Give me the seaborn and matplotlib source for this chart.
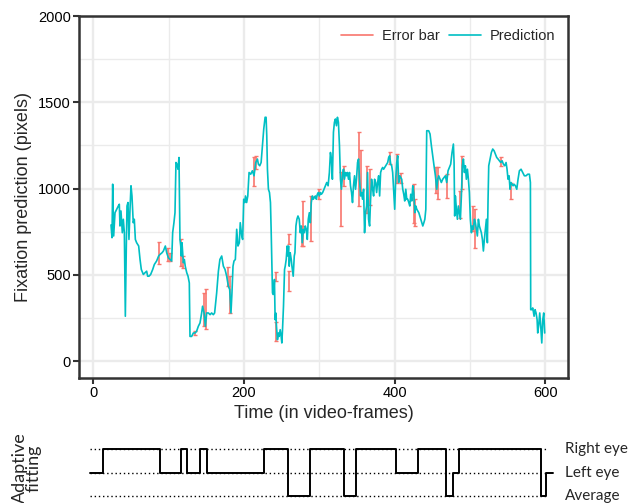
import matplotlib
matplotlib.use("Agg")
import matplotlib.pyplot as plt
from matplotlib.lines import Line2D
import numpy as np
import seaborn as sns

# ---- data ----
frames = [23.5, 24.8, 25.7, 27, 28.8, 31, 33.2, 34.5, 35.4, 36.7, 38.5, 39.8, 41.2, 42.5, 43.8,
          44.7, 46, 47.3, 48.7, 50, 51.3, 53, 54.4, 55.8, 57.5, 60.2, 62, 63.7, 66.4, 68.6,
          70.8, 72.1, 73.9, 76.1, 78.8, 81, 84, 86.7, 88.5, 91.2, 93, 95.6, 97.4, 99.6, 101.8,
          104, 105.3, 107, 108.4, 109.7, 111, 112.4, 113.7, 115, 116, 116.8, 117.7, 119.5, 120.8,
          122, 124, 125.7, 127.4, 128.3, 130.5, 132.8, 135, 137, 139.4, 141.6, 143.8, 145, 147,
          148.7, 150.5, 152.7, 155, 157, 159.3, 161, 163.7, 166, 168, 170.4, 172.6, 174.8, 177,
          179.2, 181, 182.7, 184, 185.4, 186.7, 188.5, 190.3, 192, 193.8, 195, 197, 198.2, 199.6,
          201, 202, 203.5, 205,
          206.7, 208.9, 211.1, 213.3, 215.6, 217.8, 219.1, 220.9, 222.7, 224.4, 226.2, 228, 229.3,
          230.2, 231.1, 232.4, 233.8, 235.1, 236, 236.9, 237.8, 238.7, 239.6, 240.4, 241.3, 242.2,
          243.1, 244.4, 245.8, 246.7, 248, 249.3, 250.2, 251.1, 252.4, 253.8, 254.7, 256, 257.3,
          258.2, 259.1, 260, 261.3, 262.7, 263.6, 265.3, 266.7, 267.6, 268.9, 270.2, 271.6, 273.3,
          274.7, 276, 277.3, 278.7, 280, 281.3, 282.7, 284, 285.3, 286.7, 288, 289.3, 290.7, 292,
          293.3, 294.7, 296, 297.3, 298.7, 300, 301.3, 302.7, 304.4, 306.2, 308, 309.8, 311.6,
          313.3, 314.7, 316, 317.3, 318.7, 320, 321.3, 322.7, 324, 325.3, 326.7, 328, 329.3, 330.7,
          332, 333.3, 334.7, 336, 337.3, 338.7, 340, 341.3, 342.7, 344, 345.3, 346.7, 348, 349.3,
          350.7, 352, 353.3, 354.7, 356, 357.3, 358.7, 360, 361.3, 362.7, 364, 365.3, 366.7, 368,
          369.3, 370.7, 372, 373.3, 374.7, 376, 377.3, 378.7, 380, 381.3, 382.7, 384, 385.3, 386.7,
          388, 389.3, 390.7, 392, 393.3, 394.7, 396, 397.3, 398.7, 400, 401.3, 402.7, 404, 405.3,
          406.7, 408, 409.3, 410.7, 412, 413.3, 414.7, 416, 417.3, 418.7, 420, 421.3, 422.7, 424,
          425.3, 426.7, 428, 429.3, 430.7, 432, 433.3, 434.7, 436, 437.3, 438.7, 440, 441.3,
          442.5, 445.1, 446.9, 448.7, 450.4, 452.2, 454, 455.8, 457.1, 458.4, 460.2, 461.9, 463.7,
          465.5, 467.3, 469, 470.8, 472.6, 474.3, 476.1, 477.9, 478.8, 479.6, 480.5, 481.9, 483.2,
          484.5, 485.8, 487.2, 488.5, 489.8, 491.2, 492.5, 493.8, 495.1, 496.5, 497.8, 499.1,
          500.4, 501.8, 503.1, 504.4, 505.8, 507.1, 508.4, 509.7, 511.1, 512.4, 513.7, 515, 516.4,
          517.7, 519, 520.4, 521.7, 523, 523.9, 524.8, 526.6, 528.3, 530.1, 531.9, 533.6, 535.4,
          537.2, 538.9, 540.7, 542.5, 544.3, 546, 547.8, 549.1, 550.4, 551.8, 553.1, 554.4, 555.8,
          557.1, 558.4, 560.2, 562, 563.7, 565.5, 567.7, 569.9, 572.1, 574.3, 576.6, 578.8, 580.1,
          580.5, 581.9, 583.2, 585, 586.3, 587.6, 589, 589.8, 591.2, 592.5, 593.8, 595.2, 596.5,
          597.8, 599.1]

prediction = [789, 715, 1025, 725, 860, 880, 899, 909, 783, 870, 744, 822, 744, 260, 667,
              899, 919, 705, 880, 1016, 957, 802, 822, 705, 686, 667, 589, 531, 502, 512,
              521, 492, 492, 502, 531, 560, 580, 609, 618, 628, 638, 667, 628, 599, 589,
              580, 744, 802, 860, 1151, 1141, 1112, 1180, 705, 667, 609, 686, 570, 589,
              550, 512, 492, 453, 143, 143, 163, 163, 172, 202, 221, 279, 318, 279,
              202, 279, 279, 269, 279, 269, 279, 395, 521, 589, 609, 550, 531, 492,
              434, 415, 279, 395, 550, 580, 589, 764, 667, 686, 802, 724, 705, 938,
              919, 957, 919, 957,
              1093, 1083, 1103, 1074, 1151, 1171, 1141, 1132, 1151, 1248, 1345, 1413, 1413,
              1306, 1112, 996, 977, 919, 764, 570, 395, 386, 395, 473, 240, 279,
              202, 124, 163, 143, 182, 143, 105, 182, 318, 531, 550, 589, 667,
              609, 667, 550, 628, 589, 550, 492, 609, 628, 783, 822, 841, 822,
              744, 783, 686, 764, 744, 783, 764, 705, 822, 860, 802, 919, 957, 938,
              948, 957, 938, 967, 977, 957, 977, 967, 977, 996, 1016, 1035, 1016,
              1093, 1209, 1171, 1054, 1326, 1384, 1403, 1364, 1413, 1384, 1248, 1054, 996, 1074,
              1112, 1054, 1093, 1074, 1093, 1054, 1093, 1016, 977, 919, 1016, 1074, 996, 1054,
              1151, 1171, 1054, 957, 977, 938, 996, 744, 860, 899, 1093, 822, 783, 938,
              1054, 996, 957, 1054, 1035, 977, 1035, 1074, 957, 1093, 1112, 1122, 1112, 1122,
              1132, 1141, 1151, 1180, 1190, 1141, 1132, 1093, 977, 880, 1054, 1151, 1190, 1035,
              1074, 1064, 1054, 996, 967, 928, 996, 938, 938, 919, 899, 967, 928, 1016,
              977, 860, 899, 880, 870, 860, 841, 822, 802, 783, 802, 822, 880,
              1335, 1335, 1316, 1248, 1190, 1132, 1074, 996, 1054, 1074, 1054, 1035, 1054,
              1064, 1074, 1035, 1103, 1122, 1141, 1209, 1258, 1151, 841, 957, 880, 822,
              899, 860, 822, 957, 1132, 1171, 1093, 1132, 1054, 1112, 1054, 977,
              822, 744, 783, 764, 822, 802, 764, 725, 822, 783, 764, 744, 705,
              638, 705, 764, 822, 686, 938, 1132, 1171, 1209, 1229, 1219, 1200, 1180,
              1171, 1161, 1151, 1161, 1141, 1132, 1151, 1112, 1054, 1074, 996, 1035, 1025,
              1016, 1025, 1016, 996, 1054, 1103, 1112, 1093, 1074, 1074, 1083, 1083, 1035,
              298, 298, 308, 260, 298, 279, 240, 163, 211, 279, 202, 105, 240,
              279, 163]

err_x = [87.6, 99, 101.8, 116.4, 119.5, 135, 147, 150, 178.8, 181, 213.3, 215.6, 242.2, 243.1,
         259.1, 260, 276.4, 277.8, 288.4, 300, 328.9, 332.4, 352.4, 355, 363, 367.6, 393.3,
         403.6, 408.9, 425.3, 427.6, 454.9, 458, 469, 486.7, 489.3, 504.4, 506.6, 541.2, 554.4]
err_lo = [560, 580, 580, 550, 541, 150, 202, 186, 434, 279, 1016, 1112, 463, 114, 676, 405,
          667, 667, 696, 938, 783, 1016, 899, 967, 860, 903, 1141, 1035, 1035, 802, 783, 977,
          938, 948, 831, 996, 754, 657, 1128, 938]
err_hi = [690, 657, 628, 709, 609, 175, 395, 415, 546, 492, 1180, 1190, 515, 225, 738, 521,
          783, 928, 957, 996, 1093, 1132, 1330, 1222, 1132, 1116, 1209, 1200, 1089, 1025, 938,
          1122, 1122, 1083, 986, 1190, 899, 880, 1180, 1035]

# adaptive fitting: frame where the mode switches, and the mode from there on
switch_frames = [-5, 13, 89, 117, 125, 141, 151, 226, 258, 287, 333, 349, 402, 431, 468,
                 477, 485, 594, 601, 610]
switch_modes = [1, 2, 1, 2, 1, 2, 1, 2, 0, 2, 0, 2, 1, 2, 0, 1, 2, 0, 1, 1]
mode_names = ["Average", "Left eye", "Right eye"]

RED = "#F8766D"
CYAN = "#00BFC4"
FRAME = "#333333"

sns.set_theme(style="whitegrid")
plt.rcParams["font.family"] = ["Liberation Sans", "DejaVu Sans"]

fig = plt.figure(figsize=(6.33, 5.03), dpi=100)
ax = fig.add_axes([79 / 633, 1 - 378 / 503, (568 - 79) / 633, (378 - 16) / 503])

# ---- main panel ----
mid = (np.array(err_lo) + np.array(err_hi)) / 2
ax.errorbar(err_x, mid, yerr=[mid - np.array(err_lo), np.array(err_hi) - mid],
            fmt="none", ecolor=RED, elinewidth=1.2, capsize=1.5, capthick=1, zorder=3)
sns.lineplot(x=frames, y=prediction, ax=ax, color=CYAN, linewidth=1.2,
             estimator=None, sort=False, zorder=4)

ax.set_xlim(-19, 630)
ax.set_ylim(-98, 2000)
ax.set_xticks([0, 200, 400, 600])
ax.set_yticks([0, 500, 1000, 1500, 2000])
ax.set_xticks([100, 300, 500], minor=True)
ax.set_yticks([250, 750, 1250, 1750], minor=True)
ax.grid(which="major", color="#EBEBEB", linewidth=1.7)
ax.grid(which="minor", color="#EBEBEB", linewidth=1.0)
ax.set_axisbelow(True)
for s in ax.spines.values():
    s.set_color(FRAME)
    s.set_linewidth(1.8)
ax.tick_params(which="major", direction="out", length=4, width=1.5, color=FRAME,
               labelsize=10.5, labelcolor="black", bottom=True, left=True, pad=2)
ax.tick_params(which="minor", length=0)
ax.set_xlabel("Time (in video-frames)", fontsize=13, labelpad=3)
ax.set_ylabel("Fixation prediction (pixels)", fontsize=13, labelpad=4)

handles = [Line2D([], [], color=RED, lw=1.2), Line2D([], [], color=CYAN, lw=1.2)]
ax.legend(handles, ["Error bar", "Prediction"], loc="upper right", ncol=2, frameon=False,
          fontsize=10.5, handlelength=2.2, columnspacing=0.6, handletextpad=0.6,
          bbox_to_anchor=(1.0, 1.0))

# ---- adaptive fitting strip ----
bx = fig.add_axes([79 / 633, 0, (568 - 79) / 633, 1 - 442 / 503])
bx.set_xlim(ax.get_xlim())
bx.set_ylim(-0.3, 2.3)
for lvl in range(3):
    bx.hlines(lvl, -5, 604, colors="black", linestyles=(0, (1, 2)), linewidth=1)
sns.lineplot(x=switch_frames, y=switch_modes, ax=bx, color="black", linewidth=1.4,
             estimator=None, sort=False, drawstyle="steps-post")
bx.axis("off")
for lvl, name in enumerate(mode_names):
    bx.text(0.994, lvl, name, transform=bx.get_yaxis_transform(),
            va="center", ha="left", fontsize=11, family=["Lato", "DejaVu Sans"])
fig.text(27 / 633, 1 - 468 / 503, "Adaptive\nfitting", rotation=90, ha="center", va="center",
         fontsize=13, linespacing=0.85, family=["Lato", "DejaVu Sans"])

fig.savefig("out.png", dpi=100)
